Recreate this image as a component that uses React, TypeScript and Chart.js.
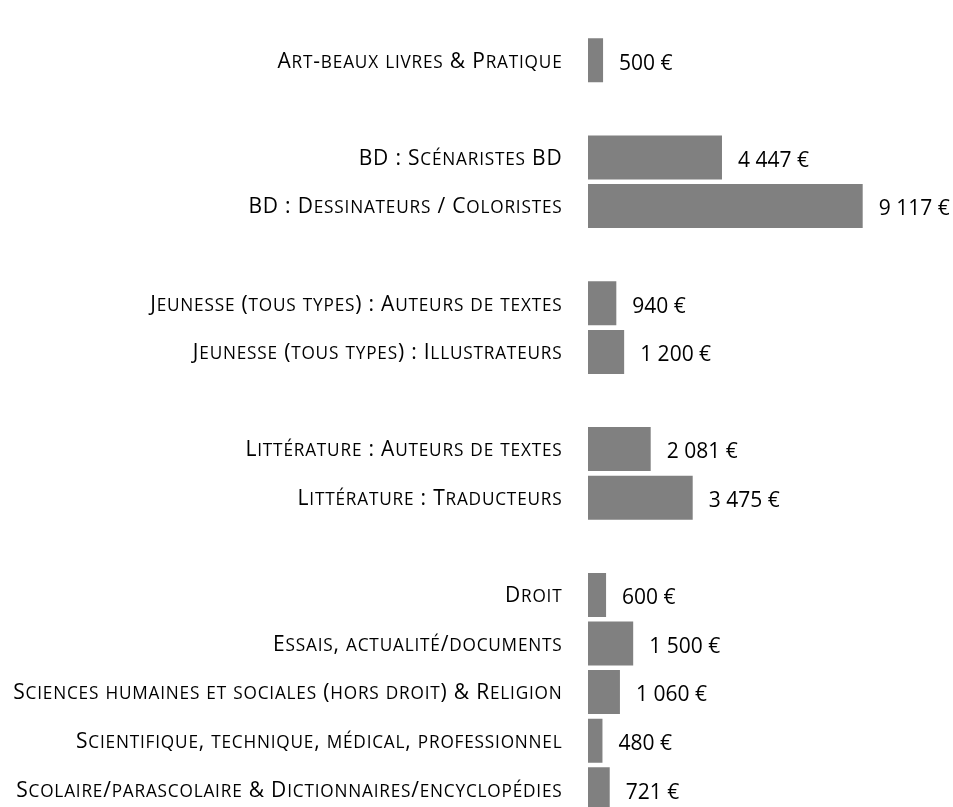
import React, { useEffect, useRef } from "react";
import { Chart, registerables } from "chart.js";

Chart.register(...registerables);

const categories: string[] = [
  "Art-beaux livres & Pratique",
  "",
  "BD : Scénaristes BD",
  "BD : Dessinateurs / Coloristes",
  "",
  "Jeunesse (tous types) : Auteurs de textes",
  "Jeunesse (tous types) : Illustrateurs",
  "",
  "Littérature : Auteurs de textes",
  "Littérature : Traducteurs",
  "",
  "Droit",
  "Essais, actualité/documents",
  "Sciences humaines et sociales (hors droit) & Religion",
  "Scientifique, technique, médical, professionnel",
  "Scolaire/parascolaire & Dictionnaires/encyclopédies",
];

const values: (number | null)[] = [
  500, null, 4447, 9117, null, 940, 1200, null, 2081, 3475, null, 600, 1500, 1060, 480, 721,
];

const X_MAX = 10000;
const FONT = "'Open Sans', 'Noto Sans', sans-serif";
const LABEL_SIZE = 21;
const SMALL_RATIO = 0.82;
const VALUE_SIZE = 21;

function formatEuro(n: number): string {
  return n.toString().replace(/\B(?=(\d{3})+(?!\d))/g, " ") + " €";
}

type Run = { text: string; small: boolean };

function toRuns(label: string): Run[] {
  const runs: Run[] = [];
  for (const ch of label) {
    const small = ch !== ch.toUpperCase();
    const t = small ? ch.toUpperCase() : ch;
    const last = runs[runs.length - 1];
    if (last && last.small === small) last.text += t;
    else runs.push({ text: t, small });
  }
  return runs;
}

const smallCapsLabels = {
  id: "smallCapsLabels",
  afterDraw(chart: any) {
    const ctx = chart.ctx;
    const yScale = chart.scales.y;
    const right = chart.chartArea.left - 25.5;
    const bigFont = `${LABEL_SIZE}px ${FONT}`;
    const smallFont = `${LABEL_SIZE * SMALL_RATIO}px ${FONT}`;
    ctx.save();
    ctx.fillStyle = "#000";
    ctx.textAlign = "left";
    ctx.textBaseline = "alphabetic";
    if ("letterSpacing" in ctx) (ctx as any).letterSpacing = "0.8px";
    categories.forEach((label, i) => {
      if (!label) return;
      const y = yScale.getPixelForValue(i);
      const runs = toRuns(label);
      let total = 0;
      const widths = runs.map((r) => {
        ctx.font = r.small ? smallFont : bigFont;
        const w = ctx.measureText(r.text).width;
        total += w;
        return w;
      });
      let x = right - total;
      runs.forEach((r, k) => {
        ctx.font = r.small ? smallFont : bigFont;
        ctx.fillText(r.text, x, y + 7.3);
        x += widths[k];
      });
    });
    ctx.restore();
  },
};

const valueLabels = {
  id: "valueLabels",
  afterDatasetsDraw(chart: any) {
    const ctx = chart.ctx;
    const meta = chart.getDatasetMeta(0);
    ctx.save();
    ctx.fillStyle = "#000";
    ctx.font = `${VALUE_SIZE}px ${FONT}`;
    ctx.textAlign = "left";
    ctx.textBaseline = "alphabetic";
    meta.data.forEach((bar: any, i: number) => {
      const v = values[i];
      if (v == null) return;
      ctx.fillText(formatEuro(v), bar.x + 16, bar.y + 9.2);
    });
    ctx.restore();
  },
};

export default function App() {
  const ref = useRef<HTMLCanvasElement | null>(null);

  useEffect(() => {
    document.body.style.margin = "0";
    document.body.style.overflow = "hidden";
    if (!ref.current) return;
    const chart = new Chart(ref.current, {
      type: "bar",
      data: {
        labels: categories,
        datasets: [
          {
            data: values as any,
            backgroundColor: "#808080",
            borderWidth: 0,
            barPercentage: 0.905,
            categoryPercentage: 1,
          },
        ],
      },
      options: {
        indexAxis: "y",
        responsive: false,
        animation: false,
        devicePixelRatio: 1,
        layout: { padding: { left: 0, right: 63.7, top: 36, bottom: 16.4 } },
        plugins: {
          legend: { display: false },
          tooltip: { enabled: false },
        },
        scales: {
          x: {
            display: false,
            min: 0,
            max: X_MAX,
          },
          y: {
            grid: { display: false, drawTicks: false },
            border: { display: false },
            afterFit: (scale: any) => {
              scale.width = 588;
            },
            ticks: { display: false },
          },
        },
      },
      plugins: [valueLabels, smallCapsLabels],
    });
    return () => chart.destroy();
  }, []);

  return (
    <div style={{ position: "absolute", left: 0, top: 0, width: 953, height: 830 }}>
      <canvas ref={ref} width={953} height={830} style={{ display: "block" }} />
    </div>
  );
}
